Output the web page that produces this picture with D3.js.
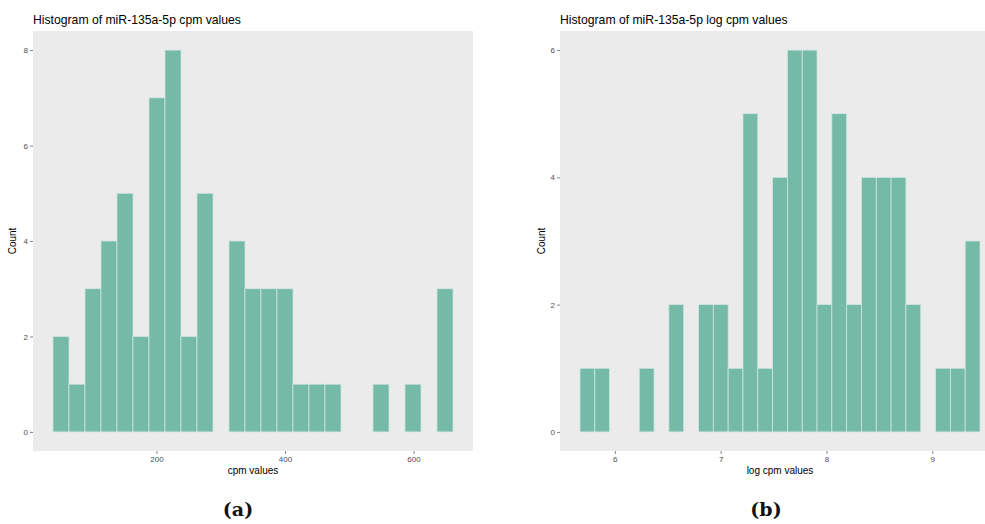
<!DOCTYPE html>
<html>
<head>
<meta charset="utf-8">
<script src="https://cdn.jsdelivr.net/npm/d3@7"></script>
<style>
  html, body { margin: 0; padding: 0; background: #ffffff; }
  svg { display: block; }
</style>
</head>
<body>
<svg id="fig" width="985" height="524"></svg>
<script>
// Histogram (a): raw cpm values, 25 equal-width bins
const cpmBinStart = 39;
const cpmBinWidth = 24.9;
const cpmCounts = [2, 1, 3, 4, 5, 2, 7, 8, 2, 5, 0, 4, 3, 3, 3, 1, 1, 1, 0, 0, 1, 0, 1, 0, 3];
const cpmTicks = [200, 400, 600];
const cpmCountTicks = [0, 2, 4, 6, 8];

// Histogram (b): log cpm values, 27 equal-width bins
const logBinStart = 5.671;
const logBinWidth = 0.14;
const logCounts = [1, 1, 0, 0, 1, 0, 2, 0, 2, 2, 1, 5, 1, 4, 6, 6, 2, 5, 2, 4, 4, 4, 2, 0, 1, 1, 3];
const logTicks = [6, 7, 8, 9];
const logCountTicks = [0, 2, 4, 6];

const panels = [
  {
    title: "Histogram of miR-135a-5p cpm values",
    xTitle: "cpm values",
    tag: "(a)",
    start: cpmBinStart, width: cpmBinWidth, counts: cpmCounts,
    xTicks: cpmTicks, yTicks: cpmCountTicks,
    box: { left: 33, top: 31, right: 473, bottom: 451 },
    yTitleX: 16
  },
  {
    title: "Histogram of miR-135a-5p log cpm values",
    xTitle: "log cpm values",
    tag: "(b)",
    start: logBinStart, width: logBinWidth, counts: logCounts,
    xTicks: logTicks, yTicks: logCountTicks,
    box: { left: 560, top: 31, right: 1000, bottom: 451 },
    yTitleX: 545
  }
];

const svg = d3.select("#fig");
const sans = "'Liberation Sans', Arial, Helvetica, sans-serif";

panels.forEach(p => {
  const bins = p.counts.map((c, i) => ({
    x0: p.start + i * p.width,
    x1: p.start + (i + 1) * p.width,
    count: c
  }));
  const lo = bins[0].x0, hi = bins[bins.length - 1].x1;
  const padX = (hi - lo) * 0.05;
  const maxC = d3.max(p.counts);
  const padY = maxC * 0.05;

  const x = d3.scaleLinear().domain([lo - padX, hi + padX]).range([p.box.left, p.box.right]);
  const y = d3.scaleLinear().domain([-padY, maxC + padY]).range([p.box.bottom, p.box.top]);

  const g = svg.append("g");

  // panel background
  g.append("rect")
    .attr("x", p.box.left).attr("y", p.box.top)
    .attr("width", p.box.right - p.box.left)
    .attr("height", p.box.bottom - p.box.top)
    .attr("fill", "#ebebeb");

  // bars
  g.append("g").selectAll("rect")
    .data(bins.filter(b => b.count > 0))
    .join("rect")
    .attr("x", d => x(d.x0))
    .attr("y", d => y(d.count))
    .attr("width", d => x(d.x1) - x(d.x0))
    .attr("height", d => y(0) - y(d.count))
    .attr("fill", "#75b9a7")
    .attr("stroke", "#cfe6de")
    .attr("stroke-width", 0.8);

  // x axis
  const xAxis = d3.axisBottom(x).tickValues(p.xTicks).tickSize(3).tickPadding(2).tickFormat(d3.format("d"));
  const gx = g.append("g").attr("transform", `translate(0,${p.box.bottom})`).call(xAxis);
  gx.select(".domain").remove();
  gx.selectAll(".tick line").attr("stroke", "#333333").attr("stroke-width", 0.6);
  gx.selectAll(".tick text").attr("fill", "#4d4d4d").attr("font-family", sans).attr("font-size", 8);

  // y axis
  const yAxis = d3.axisLeft(y).tickValues(p.yTicks).tickSize(3).tickPadding(2).tickFormat(d3.format("d"));
  const gy = g.append("g").attr("transform", `translate(${p.box.left},0)`).call(yAxis);
  gy.select(".domain").remove();
  gy.selectAll(".tick line").attr("stroke", "#333333").attr("stroke-width", 0.6);
  gy.selectAll(".tick text").attr("fill", "#4d4d4d").attr("font-family", sans).attr("font-size", 8);

  // title
  g.append("text")
    .attr("x", p.box.left).attr("y", 24)
    .attr("font-family", sans).attr("font-size", 12.2)
    .attr("fill", "#000")
    .text(p.title);

  // axis titles
  g.append("text")
    .attr("x", (p.box.left + p.box.right) / 2).attr("y", 474)
    .attr("text-anchor", "middle")
    .attr("font-family", sans).attr("font-size", 10)
    .attr("fill", "#000")
    .text(p.xTitle);

  g.append("text")
    .attr("transform", `translate(${p.yTitleX},${(p.box.top + p.box.bottom) / 2}) rotate(-90)`)
    .attr("text-anchor", "middle")
    .attr("font-family", sans).attr("font-size", 10)
    .attr("fill", "#000")
    .text("Count");
});

// sub-figure tags
[["(a)", 238], ["(b)", 766]].forEach(([t, cx]) => {
  svg.append("text")
    .attr("x", cx).attr("y", 516)
    .attr("text-anchor", "middle")
    .attr("font-family", "'DejaVu Serif', 'Liberation Serif', serif")
    .attr("font-weight", "bold")
    .attr("font-size", 19)
    .attr("fill", "#111")
    .text(t);
});
</script>
</body>
</html>
